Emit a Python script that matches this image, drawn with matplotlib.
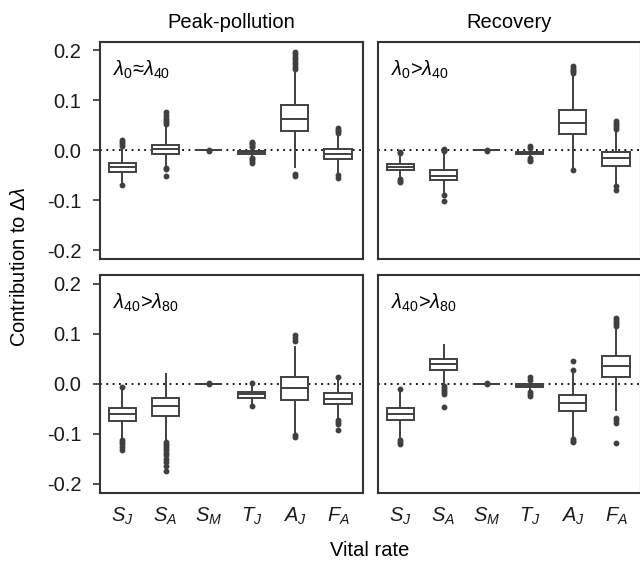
import matplotlib
matplotlib.use("Agg")
import matplotlib.pyplot as plt

fs = 14.5
plt.rcParams['font.family'] = ['Liberation Sans', 'DejaVu Sans']
plt.rcParams['font.size'] = fs
plt.rcParams['mathtext.fontset'] = 'custom'
plt.rcParams['mathtext.rm'] = 'Liberation Sans'
plt.rcParams['mathtext.it'] = 'Liberation Sans:italic'
plt.rcParams['axes.unicode_minus'] = False

rates = [r'$S_J$', r'$S_A$', r'$S_M$', r'$T_J$', r'$A_J$', r'$F_A$']
periods = ['Peak-pollution', 'Recovery']
panel_labels = [[r'$\lambda_0$≈$\lambda_{40}$', r'$\lambda_0$>$\lambda_{40}$'],
                [r'$\lambda_{40}$>$\lambda_{80}$', r'$\lambda_{40}$>$\lambda_{80}$']]

# (whisker low, q1, median, q3, whisker high) for each vital rate
peak_a = [(-0.066, -0.043, -0.034, -0.025, 0.004),
          (-0.032, -0.008, 0.003, 0.011, 0.048),
          (-0.0008, -0.0004, 0.0, 0.0004, 0.0008),
          (-0.012, -0.007, -0.004, -0.001, 0.004),
          (-0.033, 0.038, 0.063, 0.090, 0.158),
          (-0.046, -0.018, -0.007, 0.003, 0.032)]
peak_a_out = [[0.008, 0.012, 0.016, 0.020, -0.070],
              [0.052, 0.056, 0.060, 0.064, 0.070, 0.076, -0.035, -0.038, -0.051],
              [0.001, -0.001],
              [0.006, 0.009, 0.012, 0.015, 0.017, -0.015, -0.018, -0.021, -0.025],
              [0.162, 0.167, 0.172, 0.177, 0.182, 0.187, 0.192, 0.197, -0.047, -0.052],
              [0.035, 0.038, 0.041, 0.045, -0.050, -0.055]]

rec_a = [(-0.056, -0.040, -0.033, -0.027, -0.009),
         (-0.087, -0.060, -0.051, -0.040, -0.004),
         (-0.0008, -0.0004, 0.0, 0.0004, 0.0008),
         (-0.013, -0.008, -0.005, -0.003, 0.002),
         (-0.035, 0.033, 0.055, 0.081, 0.152),
         (-0.067, -0.031, -0.016, -0.003, 0.040)]
rec_a_out = [[-0.006, -0.004, -0.058, -0.061, -0.063],
             [-0.002, 0.001, 0.003, -0.090, -0.101],
             [0.001, -0.001],
             [0.004, 0.008, -0.016, -0.019, -0.021],
             [0.155, 0.158, 0.161, 0.164, 0.168, -0.040],
             [0.043, 0.047, 0.051, 0.055, 0.058, -0.072, -0.080]]

peak_b = [(-0.108, -0.075, -0.061, -0.049, -0.010),
          (-0.113, -0.065, -0.044, -0.029, 0.019),
          (-0.0008, -0.0004, 0.0, 0.0004, 0.0008),
          (-0.038, -0.028, -0.021, -0.016, -0.004),
          (-0.099, -0.033, -0.009, 0.013, 0.073),
          (-0.069, -0.041, -0.030, -0.019, 0.010)]
peak_b_out = [[-0.006, -0.112, -0.116, -0.121, -0.127, -0.133],
              [-0.117, -0.121, -0.125, -0.129, -0.133, -0.138, -0.143, -0.150,
               -0.157, -0.164, -0.175],
              [0.001, -0.001],
              [0.001, -0.044],
              [0.085, 0.091, 0.098, -0.102, -0.107],
              [0.013, -0.072, -0.076, -0.080, -0.092]]

rec_b = [(-0.110, -0.073, -0.060, -0.048, -0.012),
         (-0.002, 0.028, 0.039, 0.050, 0.078),
         (-0.0008, -0.0004, 0.0, 0.0004, 0.0008),
         (-0.012, -0.007, -0.004, -0.001, 0.004),
         (-0.107, -0.055, -0.039, -0.022, 0.021),
         (-0.052, 0.013, 0.035, 0.055, 0.113)]
rec_b_out = [[-0.010, -0.113, -0.116, -0.120],
             [-0.004, -0.008, -0.012, -0.016, -0.020, -0.047],
             [0.001, -0.001],
             [0.008, 0.013, -0.016, -0.020, -0.025],
             [0.028, 0.045, -0.110, -0.114, -0.117],
             [0.116, 0.120, 0.124, 0.128, 0.132, -0.069, -0.073, -0.079, -0.119]]

panels = [[(peak_a, peak_a_out), (rec_a, rec_a_out)],
          [(peak_b, peak_b_out), (rec_b, rec_b_out)]]

col = '#404040'
fig = plt.figure(figsize=(6.4, 5.62), dpi=100)

lefts = [100 / 640, 378 / 640]
bottoms = [(562 - 259) / 562, (562 - 493) / 562]
heights = [217 / 562, 218 / 562]
w = 263 / 640

for r in range(2):
    for c in range(2):
        ax = fig.add_axes([lefts[c], bottoms[r], w, heights[r]])
        five, outs = panels[r][c]
        stats = []
        for (lo, q1, med, q3, hi), fl in zip(five, outs):
            stats.append(dict(whislo=lo, q1=q1, med=med, q3=q3, whishi=hi, fliers=fl))
        ax.axhline(0, color='black', linestyle=(0, (1, 2.5)), linewidth=1.3, zorder=1)
        ax.bxp(stats, positions=range(1, 7), widths=0.63, patch_artist=True, showcaps=False,
               boxprops=dict(facecolor='white', edgecolor=col, linewidth=1.4),
               medianprops=dict(color=col, linewidth=1.4),
               whiskerprops=dict(color=col, linewidth=1.4),
               flierprops=dict(marker='o', markersize=3.2, markerfacecolor=col,
                               markeredgecolor=col, linestyle='none'),
               zorder=2)
        ax.set_xlim(0.48, 6.58)
        ax.set_ylim(-0.218, 0.217)
        ax.set_yticks([-0.2, -0.1, 0.0, 0.1, 0.2])
        ax.set_yticklabels(['-0.2', '-0.1', '0.0', '0.1', '0.2'])
        for s in ax.spines.values():
            s.set_color('#333333')
            s.set_linewidth(1.5)
        ax.tick_params(axis='y', length=5, width=1.2, color='#333333', pad=8.5,
                       labelsize=fs, labelcolor='#1a1a1a')
        ax.tick_params(axis='x', length=0, pad=9, labelsize=fs, labelcolor='#1a1a1a')
        if r == 1:
            ax.set_xticks(range(1, 7))
            ax.set_xticklabels(rates)
        else:
            ax.set_xticks([])
        if c == 1:
            ax.tick_params(axis='y', left=False, labelleft=False)
        ax.text(0.05, 0.925, panel_labels[r][c], transform=ax.transAxes,
                ha='left', va='top', fontsize=fs)
        if r == 0:
            fig.text(lefts[c] + w / 2, 1 - 28 / 562, periods[c], ha='center',
                     va='baseline', fontsize=fs)

fig.text(20 / 640, 1 - 267 / 562, r'Contribution to $\Delta\lambda$', rotation=90,
         ha='center', va='center', fontsize=fs)
fig.text(370 / 640, 6 / 562, 'Vital rate', ha='center', va='baseline', fontsize=fs)

fig.savefig('out.png', dpi=100)
